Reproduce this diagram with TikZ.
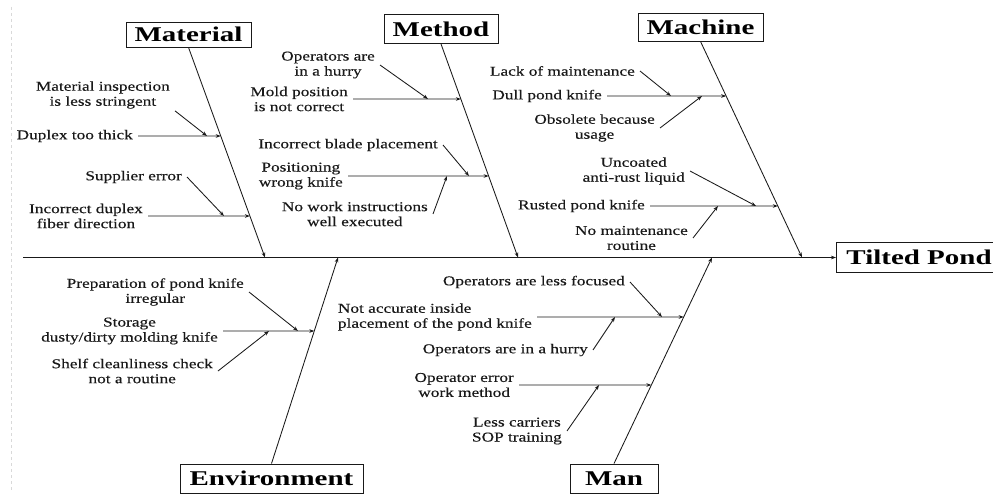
\documentclass[tikz,border=0pt]{standalone}
\usepackage{fontspec}
\setmainfont{Liberation Serif}
\newfontfamily\causefont[FakeStretch=1.28,FakeBold=0.3]{Liberation Serif}
\newfontfamily\catfont[FakeStretch=1.38]{Liberation Serif}
\usetikzlibrary{arrows.meta}
\begin{document}
\begin{tikzpicture}[x=1pt,y=-1pt,
  line/.style={line width=0.85pt, draw=black!90},
  arr/.style={line, -{Stealth[length=5pt,width=3.6pt]}},
  cause/.style={inner xsep=5pt, inner ysep=2pt, anchor=east, align=center,
    text=black!90, font=\causefont\fontsize{13.5}{15}\selectfont},
  cat/.style={draw=black!90, line width=0.9pt, inner sep=0pt, minimum height=29pt,
    text=black, font=\catfont\bfseries\fontsize{21}{24}\selectfont},
]
\fill[white] (0,0) rectangle (993,495);
\useasboundingbox (0,0) rectangle (993,495);
\draw[black!15, dashed, line width=0.6pt] (11,7) -- (11,490);

% categories and effect
\node[cat, minimum width=125pt, minimum height=25pt] (mat) at (188.5,34.5) {Material};
\node[cat, minimum width=114pt] (met) at (441,29) {Method};
\node[cat, minimum width=125pt, minimum height=28pt] (mac) at (700.5,27) {Machine};
\node[cat, minimum width=183pt] (env) at (271.5,478.5) {Environment};
\node[cat, minimum width=88pt] (man) at (614,478.5) {Man};
\node[cat, anchor=west, inner xsep=10pt, minimum height=30pt] (eff) at (836,257.5) {Tilted Pond};

% spine
\coordinate (spL) at (23,257.5);
\draw[arr] (spL) -- (eff.west);

% bones
\coordinate (matT) at (265,257.5);
\coordinate (metT) at (518,257.5);
\coordinate (macT) at (802,257.5);
\coordinate (envT) at (338,257.5);
\coordinate (manT) at (712,257.5);
\draw[arr] (mat.south) -- (matT);
\draw[arr] (met.south) -- (metT);
\draw[arr] (mac.south) -- (macT);
\draw[arr] (env.north) -- (envT);
\draw[arr] (man.north) -- (manT);

% ---- Material
\node[cause] (dup) at (138,136) {Duplex too thick};
\node[cause] (insp) at (175,95) {Material inspection\\is less stringent};
\node[cause] (sup) at (187,177) {Supplier error};
\node[cause] (incd) at (148,216) {Incorrect duplex\\fiber direction};
\coordinate (bdup) at (intersection of mat.south--matT and dup.west--dup.east);
\coordinate (bincd) at (intersection of mat.south--matT and incd.west--incd.east);
\coordinate (pinsp) at (207,0 |- dup.east);
\coordinate (psup) at (224,0 |- incd.east);
\draw[arr] (dup.east) -- (bdup);
\draw[arr] (incd.east) -- (bincd);
\draw[arr] (insp.south east) -- (pinsp);
\draw[arr] (sup.east) -- (psup);

% ---- Method
\node[cause] (ophur) at (380,65) {Operators are\\in a hurry};
\node[cause] (mold) at (353,99) {Mold position\\is not correct};
\node[cause] (blade) at (443,145) {Incorrect blade placement};
\node[cause] (pos) at (348,176) {Positioning\\wrong knife};
\node[cause] (nowork) at (433,214) {No work instructions\\well executed};
\coordinate (bmold) at (intersection of met.south--metT and mold.west--mold.east);
\coordinate (bpos) at (intersection of met.south--metT and pos.west--pos.east);
\coordinate (pophur) at (428,0 |- mold.east);
\coordinate (pblade) at (469,0 |- pos.east);
\coordinate (pnowork) at (447,0 |- pos.east);
\draw[arr] (mold.east) -- (bmold);
\draw[arr] (pos.east) -- (bpos);
\draw[arr] (ophur.east) -- (pophur);
\draw[arr] (blade.east) -- (pblade);
\draw[arr] (nowork.east) -- (pnowork);

% ---- Machine
\node[cause] (lack) at (640,71) {Lack of maintenance};
\node[cause] (dull) at (607,96) {Dull pond knife};
\node[cause] (obs) at (660,128) {Obsolete because\\usage};
\node[cause] (unc) at (690,171) {Uncoated\\anti-rust liquid};
\node[cause] (rust) at (650,206) {Rusted pond knife};
\node[cause] (nomnt) at (693,238) {No maintenance\\routine};
\coordinate (bdull) at (intersection of mac.south--macT and dull.west--dull.east);
\coordinate (brust) at (intersection of mac.south--macT and rust.west--rust.east);
\coordinate (plack) at (671,0 |- dull.east);
\coordinate (pobs) at (702,0 |- dull.east);
\coordinate (punc) at (756,0 |- rust.east);
\coordinate (pnomnt) at (718,0 |- rust.east);
\draw[arr] (dull.east) -- (bdull);
\draw[arr] (rust.east) -- (brust);
\draw[arr] (lack.east) -- (plack);
\draw[arr] (obs.east) -- (pobs);
\draw[arr] (unc.east) -- (punc);
\draw[arr] (nomnt.east) -- (pnomnt);

% ---- Environment
\node[cause] (prep) at (249,292) {Preparation of pond knife\\irregular};
\node[cause] (stor) at (223,331) {Storage\\dusty/dirty molding knife};
\node[cause] (shelf) at (218,371) {Shelf cleanliness check\\not a routine};
\coordinate (bstor) at (intersection of env.north--envT and stor.west--stor.east);
\coordinate (pprep) at (298,0 |- stor.east);
\coordinate (pshelf) at (269,0 |- stor.east);
\draw[arr] (stor.east) -- (bstor);
\draw[arr] (prep.east) -- (pprep);
\draw[arr] (shelf.east) -- (pshelf);

% ---- Man
\node[cause] (focus) at (630,282) {Operators are less focused};
\node[cause, align=left] (acc) at (537,317) {Not accurate inside\\placement of the pond knife};
\node[cause] (hur2) at (593,350) {Operators are in a hurry};
\node[cause] (operr) at (519,385) {Operator error\\work method};
\node[cause] (less) at (567,431) {Less carriers\\SOP training};
\coordinate (bacc) at (intersection of man.north--manT and acc.west--acc.east);
\coordinate (boperr) at (intersection of man.north--manT and operr.west--operr.east);
\coordinate (pfocus) at (662,0 |- acc.east);
\coordinate (phur2) at (615,0 |- acc.east);
\coordinate (pless) at (599,0 |- operr.east);
\draw[arr] (acc.east) -- (bacc);
\draw[arr] (operr.east) -- (boperr);
\draw[arr] (focus.east) -- (pfocus);
\draw[arr] (hur2.east) -- (phur2);
\draw[arr] (less.east) -- (pless);
\end{tikzpicture}
\end{document}
